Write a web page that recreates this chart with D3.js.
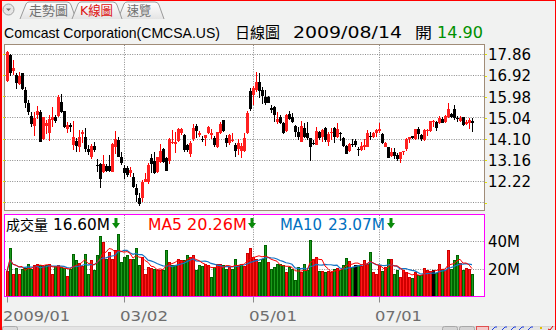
<!DOCTYPE html>
<html><head><meta charset="utf-8">
<script src="https://cdn.jsdelivr.net/npm/d3@7"></script>
<style>html,body{margin:0;padding:0;background:#fff;}svg{display:block;}</style>
</head><body>
<script>
// ---------- data ----------
const titleName = "Comcast Corporation(CMCSA.US)";
const titleKind = "日線圖";
const titleDate = "2009/08/14";
const openLabel = "開";
const tabLabels = ["走勢圖","K線圖","速覽"];
const xTickIdx = [0, 39, 82, 124];
const xTickLabels = ["2009/01","03/02","05/01","07/01"];
const priceTicks = [17.86,16.92,15.98,15.04,14.10,13.16,12.22,11.28];
const priceLabelTicks = [17.86,16.92,15.98,15.04,14.10,13.16,12.22];
const volTicks = [20,40];
const open = [16.69,17.83,17.13,16.94,16.53,17.02,16.28,15.68,15.12,14.68,
15.15,15.31,14.10,14.68,14.38,14.94,15.09,15.12,15.76,15.36,
14.53,14.71,13.82,14.01,13.75,14.34,14.20,13.67,13.32,13.79,
12.95,12.99,12.65,12.90,12.90,12.65,13.73,14.06,13.32,12.80,
12.80,12.61,12.43,11.94,11.50,11.50,12.21,12.21,13.24,13.14,
12.65,13.09,13.64,13.24,13.15,13.91,13.88,14.03,14.35,14.28,
13.83,13.42,14.09,14.68,14.28,14.12,14.17,14.35,14.29,14.17,
13.73,14.38,14.94,14.13,13.91,14.00,13.86,13.64,13.58,13.58,
14.35,16.23,16.05,16.28,16.62,16.28,15.95,15.98,15.49,15.54,
14.87,15.09,14.80,14.47,15.21,15.06,14.68,14.43,13.98,14.57,
14.35,14.17,13.91,13.86,14.43,14.20,14.57,13.98,14.35,14.57,
14.20,14.35,14.17,13.79,13.58,13.88,14.01,13.66,13.61,13.76,
13.76,14.25,14.20,14.38,14.46,14.31,13.76,13.73,13.36,13.54,
13.39,13.20,13.51,13.67,14.12,14.23,14.09,14.53,14.28,14.06,
14.47,14.47,14.86,14.87,14.80,14.99,14.87,15.06,15.21,15.42,
15.05,14.91,15.06,14.77,14.80,14.90];
const high = [18.01,17.87,17.61,17.02,17.09,17.05,16.42,15.83,15.31,15.31,
15.57,15.39,15.09,14.94,15.15,15.54,15.17,16.04,16.10,15.36,
14.84,14.83,14.89,14.13,14.50,14.50,14.59,13.83,13.88,13.97,
13.21,13.02,13.39,12.99,13.39,13.94,14.47,14.20,13.52,12.95,
12.90,12.87,12.61,12.13,11.69,12.28,12.58,13.02,13.46,13.54,
13.32,13.88,13.69,13.32,14.16,14.50,14.43,14.57,14.59,14.31,
13.88,14.01,14.77,14.77,14.47,14.23,14.28,14.68,14.53,14.23,
14.43,14.87,14.94,14.28,14.31,14.35,13.94,14.09,13.91,14.38,
15.34,16.35,16.47,17.06,17.02,16.42,16.28,16.01,15.61,15.57,
15.31,15.17,14.87,15.20,15.36,15.27,14.72,14.62,14.90,14.80,
14.87,14.17,14.06,14.62,14.47,14.53,14.62,14.43,14.57,14.65,
14.80,14.43,14.20,13.83,13.91,14.09,14.10,13.76,13.97,14.09,
14.50,14.43,14.43,14.53,14.80,14.35,13.98,13.76,13.69,13.69,
13.49,13.54,13.57,14.16,14.20,14.23,14.56,14.62,14.31,14.53,
14.53,14.91,14.94,14.90,15.12,15.06,15.17,15.68,15.27,15.61,
15.12,15.12,15.09,14.94,15.02,15.05];
const low = [16.65,16.90,16.94,16.31,16.50,16.28,15.49,15.17,14.62,14.25,
14.97,13.98,14.06,14.31,14.01,14.62,14.80,15.09,15.27,14.57,
14.38,14.43,13.60,13.54,13.54,13.91,13.54,13.39,13.20,13.54,
12.65,11.95,12.58,12.65,12.65,12.62,13.46,13.29,12.95,12.31,
12.40,12.43,11.91,11.32,11.13,11.32,12.18,12.10,12.58,12.55,
12.58,13.06,13.05,12.69,12.99,13.88,13.49,13.98,14.28,13.51,
13.54,13.29,14.03,14.17,14.20,13.98,13.79,14.31,14.09,13.76,
13.69,14.32,14.43,13.76,13.82,13.98,13.32,13.39,13.24,13.55,
14.32,15.34,15.61,16.20,15.91,15.64,15.61,15.68,15.27,14.87,
14.77,14.77,14.31,14.43,14.94,14.80,14.20,14.06,13.95,14.17,
14.06,13.14,13.82,13.82,14.06,13.98,13.98,13.80,14.06,13.94,
14.17,14.03,13.76,13.42,13.54,13.73,13.76,13.36,13.57,13.61,
13.73,14.06,14.13,14.20,14.35,13.88,13.73,13.24,13.32,13.21,
13.14,13.02,13.39,13.58,13.91,14.10,14.06,14.09,14.01,14.03,
14.23,14.41,14.62,14.44,14.77,14.80,14.83,15.02,15.02,14.94,
14.87,14.87,14.69,14.72,14.53,14.43];
const close = [17.98,17.02,17.24,16.60,16.90,16.31,15.68,15.31,14.77,15.02,
15.34,13.98,15.06,14.83,14.99,15.06,14.91,15.98,15.31,14.65,
14.72,14.65,14.19,13.79,14.19,14.43,13.64,13.54,13.79,13.61,
12.90,12.34,12.99,12.69,12.70,13.88,14.09,13.32,13.05,12.58,
12.50,12.75,11.98,11.61,11.21,12.21,12.35,12.95,12.99,12.61,
13.29,13.57,13.09,12.69,14.09,13.98,13.97,14.53,14.54,13.61,
13.60,13.94,14.57,14.47,14.35,14.04,14.28,14.62,14.37,13.86,
14.40,14.77,14.47,13.91,14.26,14.06,13.58,13.91,13.79,14.17,
15.24,15.43,16.35,16.65,16.25,16.01,15.68,15.71,15.39,15.17,
14.99,14.83,14.38,15.17,14.99,14.87,14.43,14.20,14.68,14.20,
14.13,13.76,13.88,14.47,14.17,14.50,14.06,14.32,14.40,14.20,
14.53,14.31,13.79,13.46,13.88,13.82,13.82,13.61,13.79,13.83,
14.35,14.20,14.38,14.50,14.53,13.91,13.94,13.27,13.52,13.35,
13.21,13.51,13.57,14.12,14.20,14.13,14.53,14.32,14.10,14.50,
14.51,14.90,14.90,14.57,15.05,14.83,15.12,15.42,15.06,15.04,
14.99,15.05,14.72,14.87,14.94,14.80];
const volume = [18.3,35.2,16.6,20.7,16.6,20.2,20.7,23.9,20.2,23.1,
23.9,22.7,22.2,22.7,23.9,16.6,21.9,22.7,21.4,20.7,
14.9,20.2,30.4,26.3,24.6,22.2,30.4,16.6,26.3,19.0,
29.9,43.9,39.5,27.5,32.3,27.5,33.5,45.1,25.1,28.7,
29.9,27.5,27.5,34.7,22.7,28.7,16.6,21.4,20.7,20.2,
19.0,19.0,19.0,33.5,25.1,22.7,23.1,27.5,26.3,26.3,
29.9,28.7,29.9,19.0,22.7,21.9,23.9,23.1,14.2,21.4,
23.9,23.9,22.7,20.2,21.4,20.2,27.5,23.1,23.9,21.9,
31.1,34.7,28.7,27.5,25.1,27.5,37.1,25.1,20.2,21.4,
23.9,23.9,22.7,17.8,21.4,20.2,11.8,21.4,17.8,23.9,
19.0,40.7,27.5,28.7,18.3,18.3,17.8,18.3,17.8,20.2,
20.7,19.0,23.1,28.0,25.5,21.4,23.1,23.1,22.2,26.3,
23.9,31.8,17.8,16.6,22.7,18.3,21.4,27.5,27.0,16.6,
19.0,14.2,19.0,17.8,14.2,13.5,17.8,15.4,15.4,20.7,
19.0,18.3,19.0,17.3,23.9,20.2,19.0,33.5,20.0,26.6,
30.3,24.5,19.5,20.5,20.2,16.6];

// ---------- derived ----------
const N = close.length;
const idx = d3.range(N);
function ma(n){ return idx.map(i=>{ const s=Math.max(0,i-n+1); return d3.mean(volume.slice(s,i+1)); }); }
const ma5 = ma(5), ma10 = ma(10);

// ---------- layout ----------
const W=558,H=330;
const P = {l:4, r:484, t:44, b:210};
const V = {l:4, r:484, t:214, b:296};
const RED="#ff0000", BLUE="#1474c4";

const svg = d3.select("body").append("svg").attr("width",W).attr("height",H)
  .attr("font-family","'DejaVu Sans','Noto Sans CJK TC',sans-serif");

// background & page border
svg.append("rect").attr("x",0).attr("y",0).attr("width",556).attr("height",H).attr("fill","#f1f2f1");
svg.append("rect").attr("x",0).attr("y",0).attr("width",2).attr("height",H).attr("fill","#ff0000");
svg.append("rect").attr("x",0).attr("y",0).attr("width",556).attr("height",1).attr("fill","#ff0000");
svg.append("rect").attr("x",555).attr("y",0).attr("width",1).attr("height",H).attr("fill","#ff0000");

// tabs
const defs = svg.append("defs");
const tg = defs.append("linearGradient").attr("id","tabg").attr("x1",0).attr("y1",0).attr("x2",0).attr("y2",1);
tg.append("stop").attr("offset","0%").attr("stop-color","#ffffff");
tg.append("stop").attr("offset","100%").attr("stop-color","#e4e4e4");
const tabs = [{x0:20,x1:76},{x0:72,x1:122},{x0:118,x1:164}];
[2,0,1].forEach(k=>{
  const t=tabs[k];
  svg.append("path").attr("d",`M${t.x0},19 L${t.x0+6},4 Q${t.x0+7},2 ${t.x0+9},2 L${t.x1-9},2 Q${t.x1-6},2 ${t.x1-5},5 L${t.x1},19`)
    .attr("fill", "url(#tabg)").attr("stroke","#9a9a9a").attr("stroke-width",1);
});
const tabTextX=[29,80,127], tabTextW=[39,33,24];
tabLabels.forEach((s,k)=>{
  svg.append("text").attr("x",tabTextX[k]).attr("y",15).attr("font-size",13)
    .attr("fill",k===1?"#dd1111":"#707070").attr("textLength",tabTextW[k]).attr("lengthAdjust","spacingAndGlyphs").text(s);
});
svg.append("circle").attr("cx",8.5).attr("cy",9.5).attr("r",5.5).attr("fill","#e6e6e6").attr("stroke","#a0a0a0");
svg.append("path").attr("d","M6,8.5 L11,8.5 L8.5,11 Z").attr("fill","#707070");

// title
const tY = 37.5;
svg.append("text").attr("x",4).attr("y",tY).attr("font-size",14.2).attr("fill","#000")
  .attr("font-family","'Liberation Sans',Arial,sans-serif")
  .attr("textLength",216).attr("lengthAdjust","spacingAndGlyphs").text(titleName);
svg.append("text").attr("x",235).attr("y",tY).attr("font-size",15).attr("fill","#000")
  .attr("font-family","'Noto Sans CJK TC',sans-serif")
  .attr("textLength",45).attr("lengthAdjust","spacingAndGlyphs").text(titleKind);
svg.append("text").attr("x",293).attr("y",tY).attr("font-size",15).attr("fill","#000")
  .attr("textLength",109).attr("lengthAdjust","spacingAndGlyphs").text(titleDate);
svg.append("text").attr("x",415).attr("y",tY).attr("font-size",15).attr("fill","#000")
  .attr("font-family","'Noto Sans CJK TC',sans-serif")
  .attr("textLength",17).attr("lengthAdjust","spacingAndGlyphs").text(openLabel);
svg.append("text").attr("x",437).attr("y",tY).attr("font-size",15).attr("fill","#009000")
  .attr("textLength",46).attr("lengthAdjust","spacingAndGlyphs").text(open[N-1].toFixed(2));

// scales
const x = d3.scaleLinear().domain([0,N-1]).range([7, 7+3*(N-1)]);
const y = d3.scaleLinear().domain([11.28,17.86]).range([202.7,54.3]);
const vy = d3.scaleLinear().domain([0,60]).range([297,213]);
const px = v=>Math.round(v);

// panels
svg.append("rect").attr("x",P.l+0.5).attr("y",P.t+0.5).attr("width",P.r-P.l).attr("height",P.b-P.t)
  .attr("fill","#fff").attr("stroke","#a08c78");
svg.append("rect").attr("x",V.l+0.5).attr("y",V.t+0.5).attr("width",V.r-V.l).attr("height",V.b-V.t)
  .attr("fill","#fff").attr("stroke","#ff00ff");

// gridlines
const grid = svg.append("g").attr("stroke","#8c8c8c").attr("stroke-dasharray","1,1.4").attr("stroke-width",1);
priceTicks.forEach(p=>{
  const yy=Math.floor(y(p))+0.5;
  grid.append("line").attr("x1",P.l+1).attr("x2",P.r).attr("y1",yy).attr("y2",yy);
});
xTickIdx.slice(1).forEach(i=>{
  const xx=px(x(i))+0.5;
  grid.append("line").attr("x1",xx).attr("x2",xx).attr("y1",P.t+1).attr("y2",P.b);
  grid.append("line").attr("x1",xx).attr("x2",xx).attr("y1",V.t+1).attr("y2",V.b);
});
volTicks.forEach(v=>{
  const yy=Math.floor(vy(v))+0.5;
  grid.append("line").attr("x1",V.l+1).attr("x2",V.r).attr("y1",yy).attr("y2",yy);
});
priceTicks.forEach(p=>{
  const yy=Math.floor(y(p));
  svg.append("rect").attr("x",3).attr("y",yy).attr("width",2).attr("height",1).attr("fill","#e6e600");
});

// candles
const cg = svg.append("g").attr("shape-rendering","crispEdges");
idx.forEach(i=>{
  const cx = px(x(i));
  const up = close[i] >= open[i];
  const col = up ? RED : "#000";
  cg.append("rect").attr("x",cx).attr("width",1)
    .attr("y",Math.round(y(high[i]))).attr("height",Math.max(1,Math.round(y(low[i]))-Math.round(y(high[i]))))
    .attr("fill",col);
  const top=Math.round(y(Math.max(open[i],close[i]))), bot=Math.round(y(Math.min(open[i],close[i])));
  cg.append("rect").attr("x",cx-1).attr("width",3).attr("y",top).attr("height",Math.max(1,bot-top))
    .attr("fill",up?"#ff2020":"#000");
});

// volume bars (colour by close vs previous close)
const vg = svg.append("g").attr("shape-rendering","crispEdges");
idx.forEach(i=>{
  const prev = i>0 ? close[i-1] : open[i];
  const dir = close[i]>prev ? 1 : (close[i]<prev ? -1 : 0);
  const edge = dir>0 ? "#d00000" : (dir<0 ? "#006400" : "#000");
  const fill = dir>0 ? "#ff1a1a" : (dir<0 ? "#1c9a1c" : "#000");
  const cx = px(x(i));
  const top = Math.round(vy(volume[i]));
  vg.append("rect").attr("x",cx-1).attr("width",3).attr("y",top).attr("height",V.b-top).attr("fill",edge);
  vg.append("rect").attr("x",cx).attr("width",1).attr("y",top+1).attr("height",Math.max(0,V.b-top-1)).attr("fill",fill);
});
// MA lines
const line = d3.line().x((d,i)=>x(i)).y(d=>vy(d));
svg.append("path").datum(ma10).attr("d",line).attr("fill","none").attr("stroke",BLUE).attr("stroke-width",1.2);
svg.append("path").datum(ma5).attr("d",line).attr("fill","none").attr("stroke",RED).attr("stroke-width",1);

// volume legend
function arrow(x0){
  svg.append("path").attr("d",`M${x0+2.5},218 h3 v5 h2.5 l-4,5.5 l-4,-5.5 h2.5 Z`).attr("fill","#0a8a0a");
}
const lY=229.5;
svg.append("text").attr("x",6).attr("y",lY).attr("font-size",14).attr("font-family","'Noto Sans CJK TC',sans-serif")
  .attr("textLength",42).attr("lengthAdjust","spacingAndGlyphs").text("成交量");
svg.append("text").attr("x",53).attr("y",lY).attr("font-size",15).attr("textLength",57).attr("lengthAdjust","spacingAndGlyphs").text(volume[N-1].toFixed(2)+"M");
arrow(112);
svg.append("text").attr("x",148).attr("y",lY).attr("font-size",15).attr("fill",RED).attr("textLength",34).attr("lengthAdjust","spacingAndGlyphs").text("MA5");
svg.append("text").attr("x",187).attr("y",lY).attr("font-size",15).attr("fill",RED).attr("textLength",60).attr("lengthAdjust","spacingAndGlyphs").text(ma5[N-1].toFixed(2)+"M");
arrow(248);
svg.append("text").attr("x",280).attr("y",lY).attr("font-size",15).attr("fill","#0070c0").attr("textLength",42).attr("lengthAdjust","spacingAndGlyphs").text("MA10");
svg.append("text").attr("x",328).attr("y",lY).attr("font-size",15).attr("fill","#0070c0").attr("textLength",57).attr("lengthAdjust","spacingAndGlyphs").text(ma10[N-1].toFixed(2)+"M");
arrow(387);

// price axis
const pAxis = svg.append("g").attr("transform",`translate(${P.r+1},0)`)
  .call(d3.axisRight(y).tickValues(priceTicks).tickSize(2).tickPadding(2)
    .tickFormat(d=>priceLabelTicks.includes(d)?d.toFixed(2):""));
pAxis.select(".domain").remove();
pAxis.selectAll(".tick line").attr("stroke","#e6e600").attr("shape-rendering","crispEdges");
pAxis.selectAll(".tick text").attr("font-size",15).attr("fill","#000").attr("font-family","'DejaVu Sans',sans-serif")
  .attr("x",3).attr("dy","0.36em").attr("textLength",43).attr("lengthAdjust","spacingAndGlyphs");
pAxis.selectAll(".tick").filter(d=>!priceLabelTicks.includes(d)).select("text").remove();

// volume axis
const vAxis = svg.append("g").attr("transform",`translate(${V.r+1},0)`)
  .call(d3.axisRight(vy).tickValues(volTicks).tickSize(0).tickFormat(d=>d+"M"));
vAxis.select(".domain").remove();
vAxis.selectAll(".tick text").attr("font-size",15).attr("fill","#000").attr("font-family","'DejaVu Sans',sans-serif")
  .attr("x",3).attr("dy","0.38em").attr("textLength",32).attr("lengthAdjust","spacingAndGlyphs");

// x axis
const xw = [67,48,48,47];
const xAxis = svg.append("g").attr("transform",`translate(0,${V.b+0.5})`)
  .call(d3.axisBottom(x).tickValues(xTickIdx).tickSize(6).tickPadding(0).tickFormat((d,i)=>xTickLabels[i]));
xAxis.select(".domain").remove();
xAxis.selectAll(".tick").attr("transform",d=>`translate(${px(x(d))+0.5},0)`);
xAxis.selectAll(".tick line").attr("stroke","#8a8a8a");
xAxis.selectAll(".tick text").attr("font-size",14).attr("fill","#6e6e6e").attr("font-family","'DejaVu Sans',sans-serif")
  .attr("text-anchor","start").attr("x",-4.5).attr("y",24.5).attr("dy",0)
  .attr("textLength",(d,i)=>xw[i]).attr("lengthAdjust","spacingAndGlyphs");

// bottom strip
svg.append("rect").attr("x",2).attr("y",326).attr("width",553).attr("height",4).attr("fill","#e4e4e4");
svg.append("line").attr("x1",2).attr("x2",555).attr("y1",326.5).attr("y2",326.5).attr("stroke","#d6d6d6");
svg.append("rect").attr("x",2.5).attr("y",326.5).attr("width",15).attr("height",6).attr("rx",2).attr("fill","#dadada").attr("stroke","#aaa");
[442,459].forEach(xx=>svg.append("rect").attr("x",xx+0.5).attr("y",326.5).attr("width",15).attr("height",6).attr("rx",2).attr("fill","#d4d4d4").attr("stroke","#a8a8a8"));
svg.append("rect").attr("x",476.5).attr("y",326.5).attr("width",12).attr("height",6).attr("fill","#f4c8c8").attr("stroke","#e05050");
[492,502,511,519,528].forEach(xx=>svg.append("path").attr("d",`M${xx},330 l3,-3 l2,0`).attr("stroke","#2040e0").attr("fill","none"));
svg.append("rect").attr("x",540).attr("y",327).attr("width",2).attr("height",2).attr("fill","#e0c000");
svg.append("path").attr("d","M548,329 l2,1 l3,-4").attr("stroke","#e00000").attr("fill","none");
</script>
</body></html>
